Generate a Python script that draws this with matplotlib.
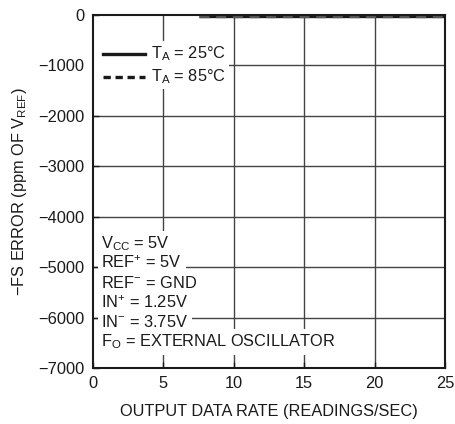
import matplotlib
matplotlib.use('Agg')
from matplotlib import pyplot as plt

# font setup (narrowest installed sans)
plt.rcParams['font.family'] = ['Liberation Sans', 'DejaVu Sans']
plt.rcParams['mathtext.fontset'] = 'custom'
plt.rcParams['mathtext.rm'] = 'Liberation Sans'
plt.rcParams['mathtext.it'] = 'Liberation Sans'

# data
rate = [7.5, 10, 15, 20, 25]
err_25c = [-10, -10, -10, -10, -10]
err_85c = [-10, -10, -10, -10, -10]

x_ticks = [0, 5, 10, 15, 20, 25]
y_ticks = [0, -1000, -2000, -3000, -4000, -5000, -6000, -7000]
y_labels = ['0', '−1000', '−2000', '−3000', '−4000', '−5000', '−6000', '−7000']

conditions = [
    r'$\mathregular{V_{CC}}$ = 5V',
    r'$\mathregular{REF^{+}}$ = 5V',
    r'$\mathregular{REF^{-}}$ = GND',
    r'$\mathregular{IN^{+}}$ = 1.25V',
    r'$\mathregular{IN^{-}}$ = 3.75V',
    r'$\mathregular{F_{O}}$ = EXTERNAL OSCILLATOR',
]
leg_lbl = [r'$\mathregular{T_A}$ = 25°C', r'$\mathregular{T_A}$ = 85°C']

ink = '#1a1a1a'
fs = 11.8

fig = plt.figure(figsize=(4.55, 4.24), dpi=100)
ax = fig.add_axes([0.2044, 0.132, 0.9780 - 0.2044, 0.9646 - 0.132])

# grid
for x in x_ticks[1:-1]:
    ax.axvline(x, color='#444444', lw=1.0, zorder=1)
for y in y_ticks[1:-1]:
    ax.axhline(y, color='#444444', lw=1.0, zorder=1)

# curves
ax.plot(rate, err_25c, color=ink, lw=2.4, solid_capstyle='butt', zorder=3)
ax.plot(rate, err_85c, color='#555555', lw=2.4, ls=(0, (3, 2)), zorder=4)

ax.set_xlim(0, 25)
ax.set_ylim(-7000, 0)
ax.set_xticks(x_ticks)
ax.set_yticks(y_ticks)
ax.set_yticklabels(y_labels)
ax.tick_params(direction='in', length=4, width=1, labelsize=fs, pad=6, colors=ink)
for s in ax.spines.values():
    s.set_linewidth(1.5)
    s.set_color(ink)
    s.set_zorder(5)

ax.set_xlabel('OUTPUT DATA RATE (READINGS/SEC)', fontsize=fs, labelpad=9, color=ink)
ax.set_ylabel(r'$-$FS ERROR (ppm OF $\mathregular{V_{REF}}$)', fontsize=fs, labelpad=7, color=ink)

box = dict(facecolor='white', edgecolor='none', pad=2.5)

# legend drawn by hand
leg_y = [-770, -1220]
ax.plot([0.7, 3.7], [leg_y[0]] * 2, color=ink, lw=2.4, zorder=2.2)
ax.plot([0.7, 3.7], [leg_y[1]] * 2, color=ink, lw=2.4, ls=(0, (2.2, 1.4)), zorder=2.2)
ax.fill_between([0.1, 4.0], -1420, -570, color='white', zorder=2)
for y, t in zip(leg_y, leg_lbl):
    ax.text(4.1, y, t, fontsize=fs, va='center', ha='left', color=ink,
            zorder=2, bbox=box)

# test conditions
for i, t in enumerate(conditions):
    ax.text(0.6, -4530 - i * 390, t, fontsize=fs, va='center', ha='left',
            color=ink, zorder=2, bbox=box)

fig.savefig('out.png', dpi=100)
